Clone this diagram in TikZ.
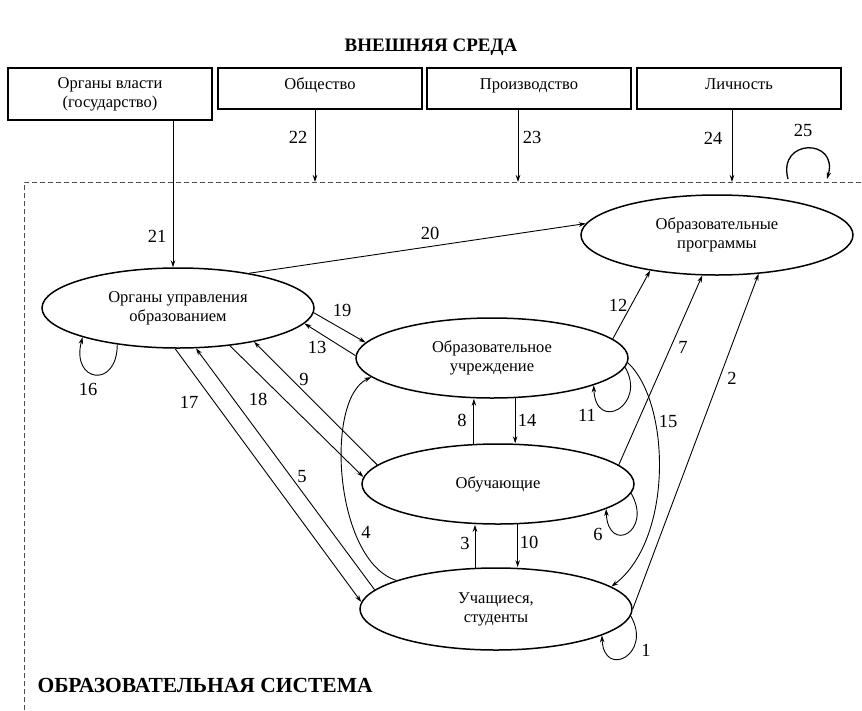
\documentclass[tikz,border=0pt]{standalone}
\usepackage{fontspec}
\setmainfont{Liberation Serif}
\usetikzlibrary{arrows.meta,shapes.geometric}

\begin{document}
\begin{tikzpicture}[x=1pt, y=-1pt,
  every node/.style={font=\fontsize{16.5}{19}\selectfont, align=center},
  envbox/.style={draw, line width=1.8pt, minimum width=204pt, minimum height=41pt, anchor=north, inner sep=0pt},
  unit/.style={draw, ellipse, line width=1.5pt, minimum width=272pt, minimum height=80pt, inner sep=0pt},
  arr/.style={-{Stealth[length=7pt,width=4.5pt]}, line width=0.9pt},
  lbl/.style={font=\fontsize{18.5}{20}\selectfont, inner sep=0pt},
  hdr/.style={font=\fontsize{19}{22}\selectfont\bfseries},
  sysline/.style={line width=0.8pt, black!70, dash pattern=on 5pt off 3pt}]

\useasboundingbox (0,0) rectangle (862,710);

% external environment
\node[hdr] (env) at (431,47) {ВНЕШНЯЯ СРЕДА};
\node[envbox, minimum height=52pt] (gov) at (110,67) {Органы власти\\(государство)};
\node[envbox, text depth=9pt] (soc) at (320,67) {Общество};
\node[envbox, text depth=9pt] (prod) at (529,67) {Производство};
\node[envbox, text depth=9pt] (pers) at (739,67) {Личность};

% system boundary
\draw[sysline] (24,710) -- (24,182) -- (862,182);
\coordinate (sysTop) at (0,182);
\node[hdr, font=\fontsize{21.5}{24}\selectfont\bfseries, anchor=west] (sys) at (34,685) {ОБРАЗОВАТЕЛЬНАЯ СИСТЕМА};

% elements of the system
\node[unit] (org) at (178,308) {Органы управления\\образованием};
\node[unit] (prog) at (717,235) {Образовательные\\программы};
\node[unit] (inst) at (492,358) {Образовательное\\учреждение};
\node[unit] (tch) at (498,484) {Обучающие};
\node[unit, minimum height=82pt] (stud) at (496,609) {Учащиеся,\\студенты};

% links from outside
\draw[arr] (org.97 |- gov.south) -- (org.97);
\draw[arr] ([xshift=-5pt]soc.south) -- ([xshift=-5pt]soc.south |- sysTop);
\draw[arr] ([xshift=-11pt]prod.south) -- ([xshift=-11pt]prod.south |- sysTop);
\draw[arr] ([xshift=-7pt]pers.south) -- ([xshift=-7pt]pers.south |- sysTop);
\coordinate (envL) at (788,179);
\coordinate (envR) at (827,179);
\draw[arr, line width=1.3pt] (envL) .. controls (777,138) and (839,138) .. (envR);

% links inside
\draw[arr] (org.26) -- (prog.175);
\draw[arr] (org.-2) -- (inst.173);
\draw[arr] (inst.179) -- (org.-7);
\draw[arr] (org.211) .. controls +(0,45) and +(-12,45) .. (org.197);
\draw[arr] (org.-94) -- (stud.177);
\draw[arr] (stud.171) -- (org.-66);
\draw[arr] (org.-36) -- (tch.177);
\draw[arr] (tch.171) -- (org.-24);
\draw[arr] (stud.164) .. controls +(-62,-20) and +(-47,22) .. (inst.189);

\draw[arr] (tch.121) -- (tch.121 |- inst.south);
\draw[arr] (inst.-60) -- (inst.-60 |- tch.north);
\draw[arr] (stud.117) -- (stud.117 |- tch.south);
\draw[arr] (tch.-64) -- (tch.-64 |- stud.north);

\draw[arr] (inst.9) -- (prog.208);
\draw[arr] (tch.9) -- (prog.250);
\draw[arr] (stud.east) -- (prog.-43);
\draw[arr] (inst.-2) .. controls +(43,40) and +(62,-47) .. (stud.11);

\draw[arr] (inst.-4) .. controls +(22,38) and +(2,48) .. (inst.-15);
\draw[arr] (tch.-4) .. controls +(22,38) and +(2,46) .. (tch.-13);
\draw[arr] (stud.-3) .. controls +(22,38) and +(2,44) .. (stud.-14);

% link numbers
\foreach \n/\x/\y in {1/646/650, 2/732/378, 3/465/543, 4/366/532, 5/302/477,
    6/598/534, 7/683/347, 8/462/420, 9/304/379, 10/529/542, 11/587/415,
    12/618/305, 13/317/347, 14/527/420, 15/668/421, 16/88/389, 17/189/402,
    18/258/399, 19/342/310, 20/430/233, 21/157/236, 22/298/137, 23/532/137,
    24/713/138, 25/803/130}
  \node[lbl] (n\n) at (\x,\y) {\n};

\end{tikzpicture}
\end{document}
